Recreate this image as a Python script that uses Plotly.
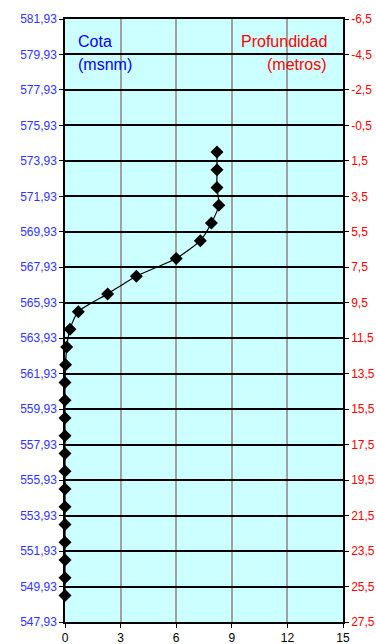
import plotly.graph_objects as go

# Data
profundidad = [1, 2, 3, 4, 5, 6, 7, 8, 9, 10, 11, 12, 13, 14, 15, 16, 17, 18, 19, 20, 21, 22, 23, 24, 25, 26]
valor_x = [8.2, 8.2, 8.2, 8.3, 7.9, 7.3, 6.0, 3.85, 2.3, 0.72, 0.27, 0.09, 0.03, 0, 0, 0, 0, 0, 0, 0, 0, 0, 0, 0, 0, 0]

cota_ticks = [581.93 - 2 * i for i in range(18)]
cota_labels = [f"{v:.2f}".replace(".", ",") for v in cota_ticks]
prof_ticks = [-6.5 + 2 * i for i in range(18)]
prof_labels = [f"{v:.1f}".replace(".", ",") for v in prof_ticks]
x_ticks = [0, 3, 6, 9, 12, 15]

fig = go.Figure()
fig.add_trace(go.Scatter(
    x=valor_x, y=profundidad, yaxis="y2", mode="lines+markers",
    line=dict(color="black", width=1.2, shape="spline", smoothing=0.6),
    marker=dict(symbol="diamond", size=10, color="black"),
    showlegend=False, hoverinfo="skip", cliponaxis=False,
))
fig.add_trace(go.Scatter(
    x=[0, 15], y=[cota_ticks[-1], cota_ticks[0]], mode="markers",
    marker=dict(opacity=0), showlegend=False, hoverinfo="skip",
))

font = "Liberation Sans, Arial, sans-serif"
fig.update_layout(
    width=376, height=644,
    margin=dict(l=65, r=33, t=19, b=22),
    paper_bgcolor="white", plot_bgcolor="#ccffff",
    font=dict(family=font, size=12),
    xaxis=dict(range=[0, 15], tickvals=x_ticks, ticktext=[str(v) for v in x_ticks],
               showgrid=True, gridcolor="#a0a0a0", gridwidth=1.5, automargin=False,
               showline=True, linecolor="black", linewidth=1.5, mirror=True,
               ticks="outside", ticklen=4, tickcolor="black",
               tickfont=dict(color="black", size=12), zeroline=False),
    yaxis=dict(range=[cota_ticks[-1], cota_ticks[0]], tickvals=cota_ticks, ticktext=cota_labels,
               showgrid=True, gridcolor="black", gridwidth=1.5, automargin=False,
               showline=True, linecolor="black", linewidth=1.5,
               ticks="outside", ticklen=4, tickcolor="black",
               tickfont=dict(color="#3333ff", size=12), zeroline=False),
    yaxis2=dict(range=[prof_ticks[-1], prof_ticks[0]], overlaying="y", side="right",
                tickvals=prof_ticks, ticktext=prof_labels, showgrid=False, automargin=False,
                showline=True, linecolor="black", linewidth=1.5,
                ticks="outside", ticklen=4, tickcolor="black",
                tickfont=dict(color="#ff0000", size=12), zeroline=False),
    annotations=[
        dict(text="Cota", x=0.04, y=0.962, xref="paper", yref="paper", xanchor="left", yanchor="middle",
             showarrow=False, font=dict(color="#0000ff", size=16)),
        dict(text="(msnm)", x=0.04, y=0.925, xref="paper", yref="paper", xanchor="left", yanchor="middle",
             showarrow=False, font=dict(color="#0000ff", size=16)),
        dict(text="Profundidad", x=0.95, y=0.962, xref="paper", yref="paper", xanchor="right", yanchor="middle",
             showarrow=False, font=dict(color="#ff0000", size=16)),
        dict(text="(metros)", x=0.95, y=0.925, xref="paper", yref="paper", xanchor="right", yanchor="middle",
             showarrow=False, font=dict(color="#ff0000", size=16)),
    ],
)
fig.write_html("out.html", config={"displayModeBar": False},
               post_script="document.body.style.margin='0';document.body.style.overflow='hidden';")
